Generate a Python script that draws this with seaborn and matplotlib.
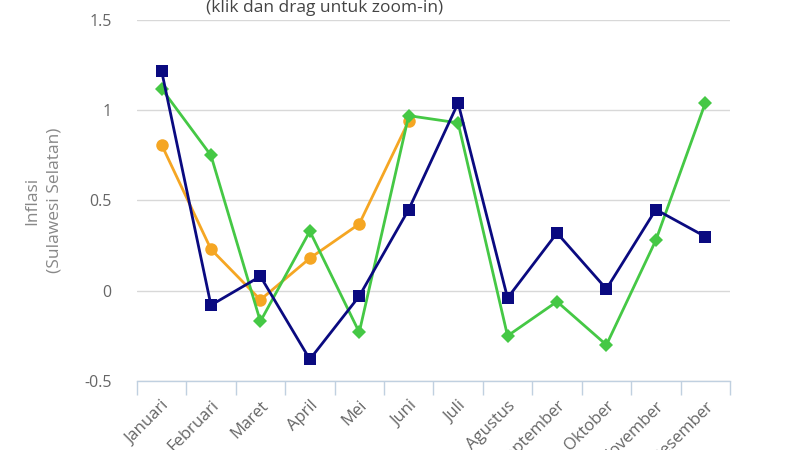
import matplotlib
matplotlib.use("Agg")
import matplotlib.pyplot as plt
import seaborn as sns
import pandas as pd
from matplotlib.ticker import FixedLocator

months = ["Januari", "Februari", "Maret", "April", "Mei", "Juni", "Juli",
          "Agustus", "September", "Oktober", "November", "Desember"]
navy_vals = [1.22, -0.08, 0.08, -0.38, -0.03, 0.45, 1.04, -0.04, 0.32, 0.01, 0.45, 0.30]
green_vals = [1.12, 0.75, -0.17, 0.33, -0.23, 0.97, 0.93, -0.25, -0.06, -0.30, 0.28, 1.04]
orange_vals = [0.81, 0.23, -0.05, 0.18, 0.37, 0.94]
y_ticks = [-0.5, 0, 0.5, 1, 1.5]
y_tick_labels = ["-0.5", "0", "0.5", "1", "1.5"]

sns.set_theme(style="white")
plt.rcParams["font.family"] = ["Open Sans", "DejaVu Sans"]

fig = plt.figure(figsize=(8, 4.5), dpi=100)
ax = fig.add_axes([0.171, 0.1533, 0.7415, 0.8023])

df_orange = pd.DataFrame({"x": list(range(len(orange_vals))), "y": orange_vals})
df_green = pd.DataFrame({"x": list(range(len(green_vals))), "y": green_vals})
df_navy = pd.DataFrame({"x": list(range(len(navy_vals))), "y": navy_vals})

sns.lineplot(data=df_orange, x="x", y="y", ax=ax, color="#f5a623", lw=2,
             marker="o", markersize=9, markeredgewidth=0, zorder=3)
sns.lineplot(data=df_green, x="x", y="y", ax=ax, color="#45c845", lw=2,
             marker="D", markersize=7, markeredgewidth=0, zorder=4)
sns.lineplot(data=df_navy, x="x", y="y", ax=ax, color="#0a0a80", lw=2,
             marker="s", markersize=9, markeredgewidth=0, zorder=5)

ax.set_xlim(-0.5, len(months) - 0.5)
ax.set_ylim(-0.5, 1.5)
ax.set_yticks(y_ticks)
ax.set_yticklabels(y_tick_labels)
ax.yaxis.grid(True, color="#d8d8d8", lw=1)
ax.xaxis.grid(False)

ax.set_xticks(range(len(months)))
ax.set_xticklabels(months, rotation=45, ha="right", rotation_mode="anchor")
ax.xaxis.set_minor_locator(FixedLocator([i - 0.5 for i in range(len(months) + 1)]))
ax.tick_params(axis="x", which="major", length=0, pad=12, labelsize=12, labelcolor="#666666")
ax.tick_params(axis="x", which="minor", length=10, width=1, color="#c0d0e0", direction="out", bottom=True)
ax.tick_params(axis="y", length=0, pad=18, labelsize=11.5, labelcolor="#666666")

for s in ["top", "right", "left"]:
    ax.spines[s].set_visible(False)
ax.spines["bottom"].set_color("#c0d0e0")
ax.spines["bottom"].set_linewidth(1)

ax.set_xlabel("")
ax.set_ylabel("Inflasi\n(Sulawesi Selatan)", color="#888888", fontsize=12.5, labelpad=16, linespacing=1.5)

fig.text(325 / 800, 1 - 8 / 450, "(klik dan drag untuk zoom-in)", ha="center", va="center",
         fontsize=12.5, color="#444444")

fig.savefig("out.png", dpi=100)
